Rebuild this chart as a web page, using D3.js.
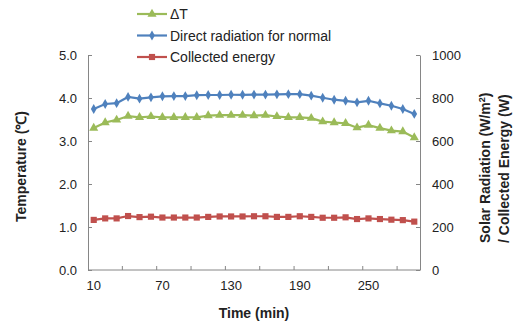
<!DOCTYPE html>
<html>
<head>
<meta charset="utf-8">
<script src="https://cdn.jsdelivr.net/npm/d3@7"></script>
<style>
  body { margin: 0; background: #fff; }
  svg text { font-family: "Liberation Sans", Arial, sans-serif; fill: #222; }
</style>
</head>
<body>
<div id="chart"></div>
<script>
// time in minutes (category axis)
const times = d3.range(10, 300, 10);

// ΔT (℃), left axis
const deltaT = [3.30, 3.43, 3.49, 3.58, 3.55, 3.57, 3.55, 3.55, 3.55, 3.55,
  3.59, 3.60, 3.60, 3.60, 3.59, 3.60, 3.57, 3.55, 3.55, 3.53,
  3.45, 3.43, 3.41, 3.31, 3.37, 3.30, 3.24, 3.22, 3.08];

// direct radiation for normal (W/m2), right axis
const radiation = [749, 772, 776, 805, 797, 803, 808, 809, 809, 813,
  814, 814, 815, 815, 816, 816, 817, 818, 818, 811,
  801, 792, 787, 780, 787, 775, 764, 749, 726];

// collected energy (W), right axis
const energy = [233, 240, 240, 251, 246, 248, 244, 244, 244, 244,
  247, 249, 249, 249, 250, 250, 247, 247, 250, 247,
  243, 243, 245, 237, 240, 237, 234, 232, 225];

const leftTicks = [0, 1, 2, 3, 4, 5];
const rightTicks = [0, 200, 400, 600, 800, 1000];
const xLabels = [10, 70, 130, 190, 250];

const width = 517;
const height = 330;
const margin = { top: 55, right: 97, bottom: 60, left: 88 };
const innerW = width - margin.left - margin.right;
const innerH = height - margin.top - margin.bottom;

const axisColor = '#868686';

const svg = d3.select('#chart')
  .append('svg')
  .attr('width', width)
  .attr('height', height);

const g = svg.append('g')
  .attr('transform', `translate(${margin.left},${margin.top})`);

const x = d3.scaleBand().domain(times).range([0, innerW]).padding(0);
const xEdge = d3.scaleLinear().domain([0, times.length]).range([0, innerW]);
const yLeft = d3.scaleLinear().domain([0, 5]).range([innerH, 0]);
const yRight = d3.scaleLinear().domain([0, 1000]).range([innerH, 0]);

// axes
const styleAxis = (sel) => {
  sel.select('.domain').attr('stroke', axisColor);
  sel.selectAll('.tick line').attr('stroke', axisColor);
  sel.selectAll('.tick text').style('font-size', '13px').attr('fill', '#222');
};

g.append('g')
  .call(d3.axisLeft(yLeft).tickValues(leftTicks).tickFormat(d3.format('.1f'))
    .tickSize(-4).tickSizeOuter(0).tickPadding(11))
  .call(styleAxis);

g.append('g')
  .attr('transform', `translate(${innerW},0)`)
  .call(d3.axisRight(yRight).tickValues(rightTicks).tickFormat(d3.format('d'))
    .tickSize(-4).tickSizeOuter(0).tickPadding(12))
  .call(styleAxis);

// bottom axis: marks at category edges, labels at category centres
const xAxisG = g.append('g').attr('transform', `translate(0,${innerH})`);
xAxisG.append('line')
  .attr('x1', 0).attr('x2', innerW)
  .attr('stroke', axisColor);
xAxisG.selectAll('.xtick')
  .data(d3.range(3, times.length, 3))
  .join('line')
  .attr('x1', (d) => xEdge(d)).attr('x2', (d) => xEdge(d))
  .attr('y1', 0).attr('y2', -4)
  .attr('stroke', axisColor);
xAxisG.selectAll('.xlabel')
  .data(xLabels)
  .join('text')
  .attr('x', (d) => x(d) + x.bandwidth() / 2)
  .attr('y', 20)
  .attr('text-anchor', 'middle')
  .style('font-size', '13px')
  .text((d) => d);

// series
const series = [
  { name: 'ΔT', values: deltaT, y: yLeft, color: '#9BBB59', marker: d3.symbolTriangle, size: 36 },
  { name: 'Direct radiation for normal', values: radiation, y: yRight, color: '#4F81BD', marker: d3.symbolDiamond, size: 28 },
  { name: 'Collected energy', values: energy, y: yRight, color: '#C0504D', marker: d3.symbolSquare, size: 38 },
];

const cx = (i) => x(times[i]) + x.bandwidth() / 2;

// draw in reverse so ΔT sits on top like the legend order suggests
series.slice().reverse().forEach((s) => {
  const line = d3.line()
    .x((d, i) => cx(i))
    .y((d) => s.y(d));

  g.append('path')
    .datum(s.values)
    .attr('fill', 'none')
    .attr('stroke', s.color)
    .attr('stroke-width', 2.2)
    .attr('d', line);

  g.selectAll(null)
    .data(s.values)
    .join('path')
    .attr('transform', (d, i) => `translate(${cx(i)},${s.y(d)})`)
    .attr('d', d3.symbol().type(s.marker).size(s.size))
    .attr('fill', s.color);
});

// legend
const legend = svg.append('g').attr('transform', 'translate(137,14)');
series.forEach((s, i) => {
  const row = legend.append('g').attr('transform', `translate(0,${i * 21.5})`);
  row.append('line')
    .attr('x1', 0).attr('x2', 30)
    .attr('stroke', s.color).attr('stroke-width', 2.2);
  row.append('path')
    .attr('transform', 'translate(15,0)')
    .attr('d', d3.symbol().type(s.marker).size(s.size))
    .attr('fill', s.color);
  row.append('text')
    .attr('x', 33)
    .attr('dy', '0.36em')
    .style('font-size', '14px')
    .text(s.name);
});

// axis titles
svg.append('text')
  .attr('transform', `translate(26,${margin.top + innerH / 2 + 4}) rotate(-90)`)
  .attr('text-anchor', 'middle')
  .style('font-size', '14px')
  .style('font-weight', 'bold')
  .text('Temperature (℃)');

const rightTitle = svg.append('text')
  .attr('transform', 'translate(490,243) rotate(-90)')
  .style('font-size', '14px')
  .style('font-weight', 'bold');
rightTitle.append('tspan').attr('x', 0).attr('y', 0).text('Solar Radiation (W/m');
rightTitle.append('tspan').attr('dy', -5).style('font-size', '9px').text('2');
rightTitle.append('tspan').attr('dy', 5).text(')');
rightTitle.append('tspan').attr('x', 0).attr('y', 19).text('/ Collected Energy (W)');

svg.append('text')
  .attr('x', margin.left + innerW / 2)
  .attr('y', 318)
  .attr('text-anchor', 'middle')
  .style('font-size', '14px')
  .style('font-weight', 'bold')
  .text('Time (min)');
</script>
</body>
</html>
